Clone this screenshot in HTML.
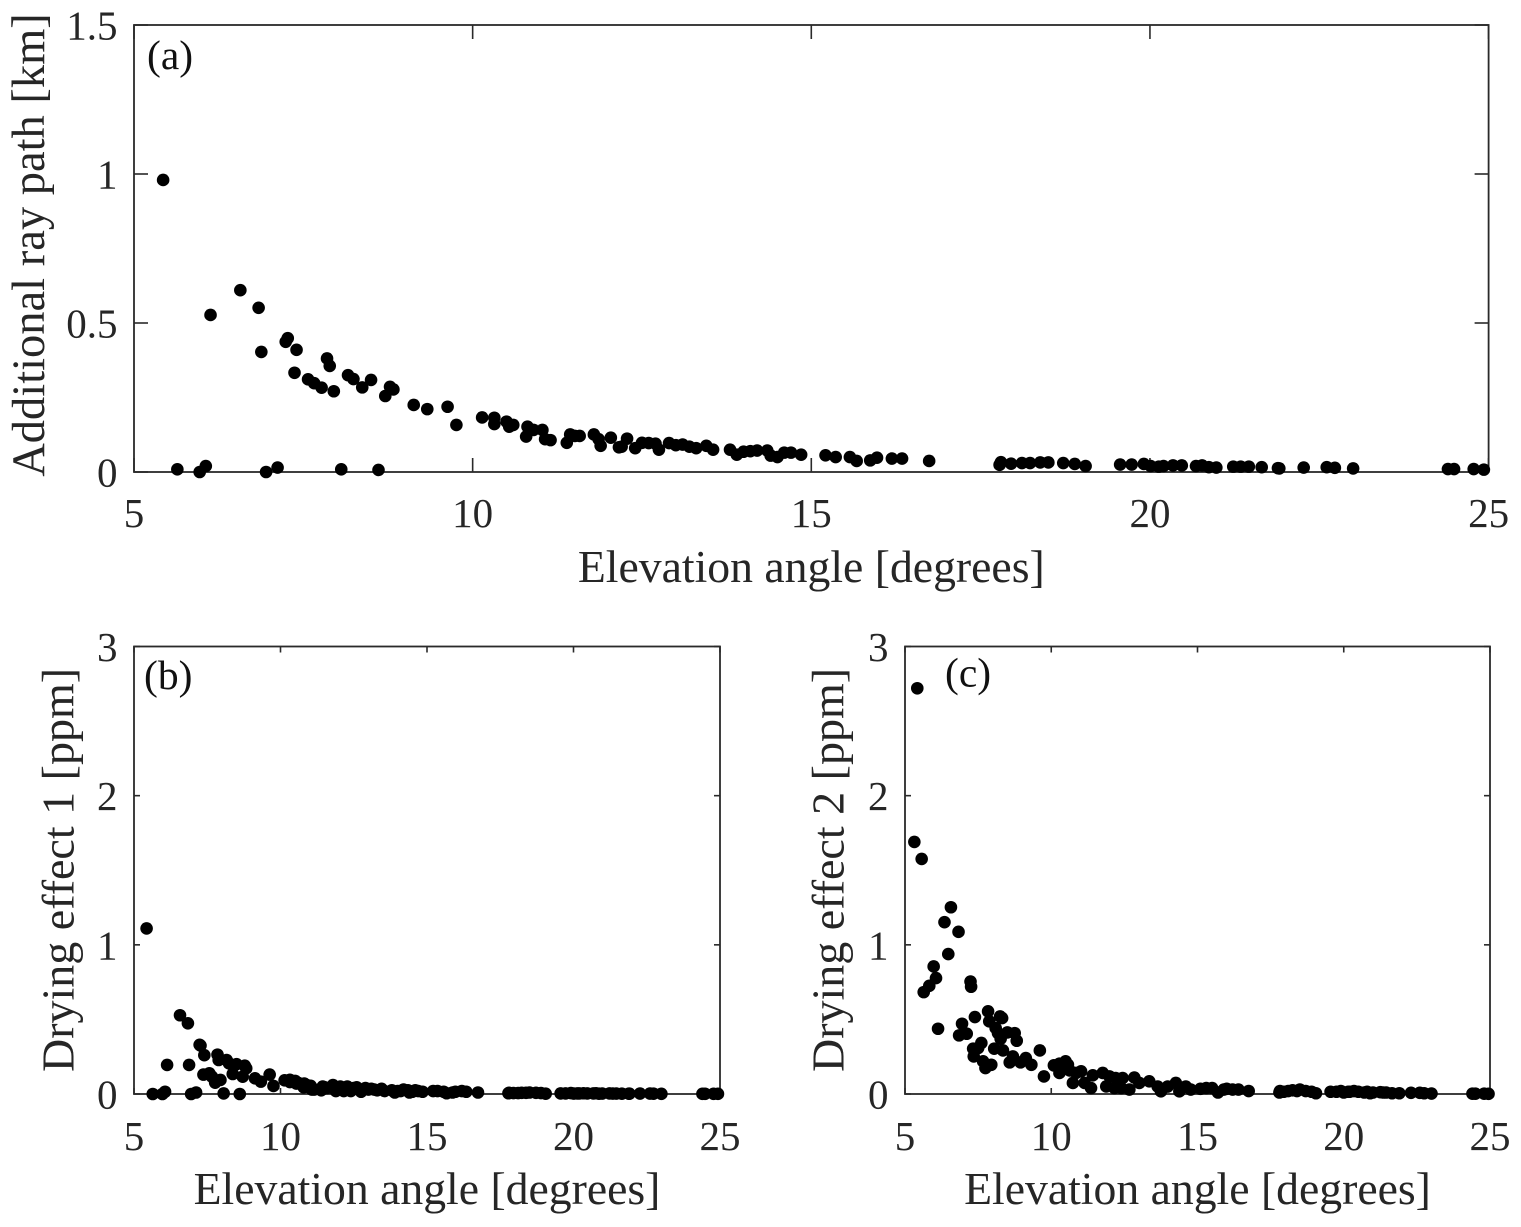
<!DOCTYPE html>
<html>
<head>
<meta charset="utf-8">
<title>Elevation angle charts</title>
<style>
html,body{margin:0;padding:0;background:#fff;width:1521px;height:1227px;overflow:hidden}
svg{display:block}
text{font-family:"Liberation Serif",serif;fill:#262626}
</style>
</head>
<body>
<svg id="chart" xmlns="http://www.w3.org/2000/svg" width="1521" height="1227" viewBox="0 0 1521 1227"></svg>
<script>
const xTickLabels = [5, 10, 15, 20, 25];
const yTicksA = [0, 0.5, 1, 1.5];
const yTicksB = [0, 1, 2, 3];
const yTicksC = [0, 1, 2, 3];

const elevationAB = [
5.43,5.64,5.97,6.06,6.13,6.57,6.84,6.88,6.95,7.12,
7.24,7.27,7.40,7.37,7.57,7.66,7.77,7.95,7.85,7.89,
8.06,8.16,8.24,8.37,8.50,8.61,8.71,8.78,8.83,9.13,
9.33,9.63,9.76,10.14,10.32,10.32,10.50,10.54,10.60,10.81,
10.79,10.90,11.03,11.07,11.15,11.39,11.44,11.51,11.58,11.79,
11.86,11.89,12.04,12.16,12.2,12.28,12.4,12.5,12.6,12.7,
12.75,12.9,13.0,13.1,13.2,13.3,13.45,13.55,13.8,13.9,
14.0,14.1,14.2,14.35,14.4,14.5,14.6,14.7,14.85,15.21,
15.36,15.57,15.67,15.87,15.97,16.19,16.34,16.74,17.78,17.8,
17.95,18.11,18.23,18.38,18.5,18.72,18.89,19.05,19.56,19.73,
19.91,20.01,20.13,20.2,20.34,20.47,20.68,20.77,20.87,20.98,
21.23,21.34,21.46,21.65,21.89,21.91,22.27,22.61,22.73,23.0,
24.4,24.49,24.78,24.93
];
const rayPath = [
0.98,0.009,0,0.02,0.527,0.61,0.551,0.403,0,0.015,
0.437,0.449,0.41,0.333,0.311,0.298,0.283,0.271,0.381,0.356,
0.009,0.325,0.312,0.284,0.309,0.007,0.255,0.286,0.277,0.225,
0.211,0.219,0.158,0.183,0.182,0.161,0.169,0.152,0.158,0.152,
0.119,0.141,0.141,0.11,0.107,0.098,0.126,0.121,0.121,0.126,
0.11,0.088,0.115,0.083,0.085,0.112,0.08,0.098,0.097,0.095,
0.075,0.097,0.09,0.092,0.085,0.08,0.088,0.075,0.075,0.058,
0.068,0.07,0.072,0.072,0.055,0.05,0.065,0.065,0.058,0.056,
0.05,0.05,0.037,0.039,0.048,0.045,0.045,0.037,0.024,0.033,
0.028,0.03,0.03,0.032,0.032,0.03,0.027,0.02,0.025,0.025,
0.027,0.02,0.018,0.02,0.022,0.022,0.02,0.022,0.016,0.015,
0.018,0.018,0.018,0.016,0.013,0.012,0.015,0.016,0.014,0.012,
0.01,0.01,0.01,0.008
];
const dryingOne = [
1.11,0,0,0.015,0.195,0.528,0.474,0.195,0,0.01,
0.33,0.325,0.26,0.13,0.139,0.116,0.076,0.094,0.264,0.228,
0.004,0.228,0.206,0.134,0.2,0,0.116,0.19,0.172,0.105,
0.083,0.13,0.054,0.092,0.095,0.08,0.088,0.07,0.075,0.07,
0.045,0.06,0.055,0.03,0.03,0.025,0.05,0.045,0.04,0.06,
0.035,0.02,0.05,0.02,0.03,0.05,0.02,0.04,0.045,0.03,
0.015,0.04,0.03,0.035,0.03,0.025,0.035,0.02,0.025,0.01,
0.02,0.02,0.03,0.025,0.01,0.015,0.025,0.02,0.015,0.02,
0.02,0.015,0.005,0.01,0.015,0.02,0.015,0.01,0.005,0.008,
0.006,0.006,0.008,0.008,0.01,0.008,0.006,0.002,0.004,0.004,
0.006,0.003,0.004,0.004,0.005,0.004,0.004,0.005,0.002,0.003,
0.004,0.003,0.003,0.002,0.002,0.002,0.003,0.003,0.002,0.001,
0.001,0.001,0.001,0.001
];
const elevationC = [
5.42,5.32,5.57,6.57,6.35,6.83,6.48,5.98,6.06,5.83,
5.64,7.24,7.26,6.13,7.39,6.95,6.85,7.11,7.84,7.88,
8.25,8.32,8.1,8.18,8.27,8.5,8.75,8.82,7.61,7.5,
7.33,7.35,7.67,7.75,7.95,8.05,8.35,8.69,8.58,8.95,
9.13,9.32,9.61,9.75,10.09,10.28,10.49,10.57,10.28,10.45,
10.63,10.85,11.02,10.74,11.14,11.36,11.42,11.76,11.99,11.88,
12.16,12.2,12.44,12.39,12.67,12.84,13.01,13.35,13.64,13.75,
13.98,14.26,14.38,14.6,14.77,15.1,15.3,15.5,15.7,15.9,
16.0,16.2,16.4,16.75,17.8,17.82,17.95,18.1,18.25,18.4,
18.5,18.7,18.9,19.05,19.55,19.75,19.9,20.0,20.15,20.2,
20.35,20.5,20.7,20.8,20.9,21.0,21.25,21.35,21.45,21.65,
21.9,22.3,22.6,22.75,23.0,24.4,24.5,24.8,24.95
];
const dryingTwo = [
2.72,1.69,1.576,1.252,1.152,1.087,0.938,0.855,0.777,0.725,
0.683,0.754,0.719,0.4375,0.516,0.471,0.393,0.404,0.554,0.487,
0.52,0.509,0.442,0.408,0.37,0.413,0.408,0.357,0.342,0.308,
0.304,0.252,0.219,0.174,0.196,0.304,0.292,0.252,0.212,0.212,
0.241,0.196,0.292,0.118,0.192,0.203,0.219,0.196,0.141,0.174,
0.158,0.141,0.152,0.074,0.074,0.04,0.125,0.141,0.118,0.051,
0.04,0.107,0.107,0.04,0.03,0.11,0.074,0.085,0.05,0.018,
0.05,0.074,0.018,0.05,0.03,0.035,0.04,0.04,0.01,0.03,
0.035,0.03,0.03,0.02,0.01,0.02,0.015,0.02,0.025,0.02,
0.03,0.02,0.015,0.005,0.015,0.015,0.02,0.01,0.015,0.015,
0.02,0.015,0.01,0.015,0.005,0.01,0.012,0.01,0.01,0.005,
0.005,0.008,0.008,0.005,0.003,0.002,0.002,0.002,0.001
];

const SVGNS = 'http://www.w3.org/2000/svg';
const root = document.getElementById('chart');

function make(tag, attrs, parent) {
  const el = document.createElementNS(SVGNS, tag);
  for (const k in attrs) el.setAttribute(k, attrs[k]);
  parent.appendChild(el);
  return el;
}

function drawPanel(p) {
  const g = make('g', {}, root);
  
  
  const xMin = xTickLabels[0], xMax = xTickLabels[xTickLabels.length - 1];
  const yMin = p.yTicks[0], yMax = p.yTicks[p.yTicks.length - 1];
  const sx = v => p.left + (v - xMin) / (xMax - xMin) * (p.right - p.left);
  const sy = v => p.bottom - (v - yMin) / (yMax - yMin) * (p.bottom - p.top);

  const frame = make('rect', {x: p.left, y: p.top, width: p.right - p.left, height: p.bottom - p.top, fill: 'none', stroke: '#2a2a2a', 'stroke-width': 1.8}, g);
  
  

  xTickLabels.forEach(v => {
    const x = sx(v);
    const t1 = make('line', {x1: x, x2: x, y1: p.bottom, y2: p.bottom - p.tick, stroke: '#2a2a2a', 'stroke-width': 1.6}, g);
    
    
    const t2 = make('line', {x1: x, x2: x, y1: p.top, y2: p.top + p.tick, stroke: '#2a2a2a', 'stroke-width': 1.6}, g);
    
    
    const lab = make('text', {x: x, y: p.xTickY, 'font-size': 41, 'text-anchor': 'middle'}, g);
    
    
    lab.textContent = v;
  });

  p.yTicks.forEach(v => {
    const y = sy(v);
    const t1 = make('line', {x1: p.left, x2: p.left + p.tick, y1: y, y2: y, stroke: '#2a2a2a', 'stroke-width': 1.6}, g);
    
    
    const t2 = make('line', {x1: p.right, x2: p.right - p.tick, y1: y, y2: y, stroke: '#2a2a2a', 'stroke-width': 1.6}, g);
    
    
    const lab = make('text', {x: p.left - 16.5, y: y + 14.5, 'font-size': 41, 'text-anchor': 'end'}, g);
    
    
    lab.textContent = v;
  });

  p.xs.forEach((x, i) => {
    const c = make('circle', {cx: sx(x), cy: sy(p.ys[i]), r: 6.3, fill: '#000'}, g);
    
    
  });

  const xt = make('text', {x: (p.left + p.right) / 2, y: p.xLabelY, 'font-size': 45.7, 'text-anchor': 'middle'}, g);
  
  
  xt.textContent = 'Elevation angle [degrees]';

  const yt = make('text', {transform: 'translate(' + p.yLabelX + ',' + p.yLabelCy + ') rotate(-90)', 'font-size': p.yTitleSize, 'text-anchor': 'middle'}, g);
  
  
  yt.textContent = p.yTitle;

  const tag = make('text', {x: p.tagX, y: p.tagY, 'font-size': 41.5, style: 'fill:#111'}, g);
  
  
  tag.textContent = p.tag;
}

drawPanel({id: 'ray-path', left: 134, right: 1488.6, top: 25, bottom: 472, tick: 14, xTickY: 527, xLabelY: 582,
  yLabelX: 44, yLabelCy: 245, yTitleSize: 46.5, tagX: 147, tagY: 69, tag: '(a)', yTitle: 'Additional ray path [km]',
  yTicks: yTicksA, xs: elevationAB, ys: rayPath});
drawPanel({id: 'drying-one', left: 134, right: 720, top: 646.5, bottom: 1094, tick: 6, xTickY: 1150, xLabelY: 1204,
  yLabelX: 73.5, yLabelCy: 870, yTitleSize: 46, tagX: 144, tagY: 689, tag: '(b)', yTitle: 'Drying effect 1 [ppm]',
  yTicks: yTicksB, xs: elevationAB, ys: dryingOne});
drawPanel({id: 'drying-two', left: 905, right: 1490, top: 646.5, bottom: 1094, tick: 6, xTickY: 1150, xLabelY: 1204,
  yLabelX: 843.5, yLabelCy: 870, yTitleSize: 46, tagX: 945, tagY: 686.5, tag: '(c)', yTitle: 'Drying effect 2 [ppm]',
  yTicks: yTicksC, xs: elevationC, ys: dryingTwo});
</script>
</body>
</html>
